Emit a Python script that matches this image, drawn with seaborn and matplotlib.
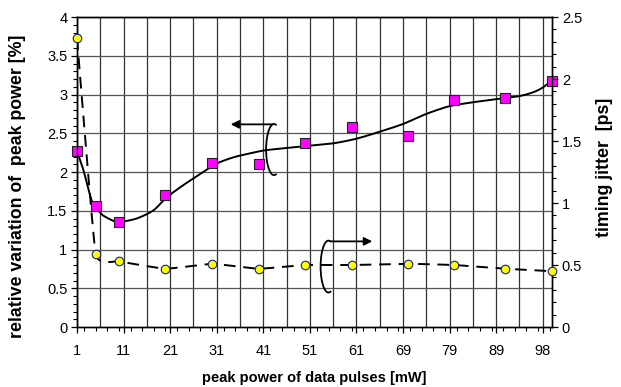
import numpy as np
import pandas as pd
import matplotlib
matplotlib.use("Agg")
import matplotlib.pyplot as plt
import seaborn as sns
from matplotlib.patches import Arc
from matplotlib.ticker import MultipleLocator, FixedLocator

# ---- data (x = position along the category axis) ----
x_pos = [1, 5, 10, 20, 30, 40, 50, 60, 72, 82, 93, 103]
power_var = [2.27, 1.56, 1.35, 1.70, 2.12, 2.10, 2.37, 2.58, 2.47, 2.93, 2.95, 3.18]
jitter = [2.33, 0.59, 0.53, 0.47, 0.51, 0.47, 0.50, 0.50, 0.51, 0.50, 0.47, 0.45]

# smoothed trend curve for the power variation
trend_x = [1, 2.4, 4.1, 5.2, 6.6, 8.8, 10.2, 13.8, 17.4, 20.2, 23.8, 28.1, 31, 34.6,
           38.1, 41.3, 46, 51, 56, 61, 66, 71, 76, 81, 86, 91, 96, 99, 101, 102.9]
trend_y = [2.27, 2.02, 1.64, 1.53, 1.44, 1.37, 1.355, 1.40, 1.505, 1.67, 1.83, 2.0, 2.11, 2.19,
           2.24, 2.28, 2.31, 2.34, 2.37, 2.43, 2.52, 2.62, 2.75, 2.85, 2.90, 2.94, 2.98, 3.03, 3.09, 3.18]

tick_pos = [1, 11, 21, 31, 41, 51, 61, 71, 81, 91, 101]
tick_labels = ["1", "11", "21", "31", "41", "51", "61", "69", "79", "89", "98"]


def smooth(xs, ys, n=20, tension=1.0):
    """Cardinal-spline rendering of a smoothed line (like a spreadsheet 'smoothed line')."""
    xs = np.asarray(xs, float); ys = np.asarray(ys, float)
    P = np.column_stack([xs, ys])
    m = len(P)
    T = np.zeros_like(P)
    for i in range(m):
        a = P[max(i - 1, 0)]; b = P[min(i + 1, m - 1)]
        T[i] = 0.5 * tension * (b - a)
    t = np.linspace(0, 1, n, endpoint=False)[:, None]
    h00 = 2 * t**3 - 3 * t**2 + 1; h10 = t**3 - 2 * t**2 + t
    h01 = -2 * t**3 + 3 * t**2; h11 = t**3 - t**2
    out = []
    for i in range(m - 1):
        out.append(h00 * P[i] + h10 * T[i] + h01 * P[i + 1] + h11 * T[i + 1])
    out.append(P[-1][None, :])
    out = np.vstack(out)
    return out[:, 0], out[:, 1]


sns.set_style("ticks")
plt.rcParams['font.family'] = ['Liberation Sans', 'DejaVu Sans']
plt.rcParams['text.color'] = 'black'
plt.rcParams['axes.labelcolor'] = 'black'

fig = plt.figure(figsize=(6.21, 3.87), dpi=100)
ax = fig.add_axes([0.124, 0.155, 0.765, 0.801])
ax2 = ax.twinx()

ax.set_xlim(1, 103)
ax.set_ylim(0, 4)
ax2.set_ylim(0, 2.5)
ax.xaxis.set_major_locator(FixedLocator(tick_pos))
ax.xaxis.set_minor_locator(MultipleLocator(2.5))
ax.set_xticklabels(tick_labels)
ax.set_yticks(np.arange(0, 4.01, 0.5))
ax.set_yticklabels([f"{v:g}" for v in np.arange(0, 4.01, 0.5)])
ax.yaxis.set_minor_locator(MultipleLocator(0.1))
ax2.set_yticks(np.arange(0, 2.51, 0.5))
ax2.set_yticklabels([f"{v:g}" for v in np.arange(0, 2.51, 0.5)])
ax2.yaxis.set_minor_locator(MultipleLocator(0.1))

for v in np.arange(1, 103, 5):
    ax.axvline(v, color="#333333", lw=0.9, zorder=0.5)
for v in np.arange(0.5, 4.01, 0.5):
    ax.axhline(v, color="#555555", lw=0.9, zorder=0.5)

# trend curve (solid) for power variation
tx, ty = smooth(trend_x, trend_y, 10, tension=0.8)
ax.plot(tx, ty, color="black", lw=1.4, zorder=3)

# dashed smoothed line for jitter
jx, jy = smooth(x_pos, jitter, 20, tension=0.35)
ax2.plot(jx, jy, color="black", lw=1.4, dashes=(6, 4), zorder=3)

df1 = pd.DataFrame({"x": x_pos, "y": power_var})
df2 = pd.DataFrame({"x": x_pos, "y": jitter})
sns.scatterplot(data=df1, x="x", y="y", ax=ax, marker="s", s=50, color="#ff00ff",
                edgecolor="#222222", linewidth=0.8, zorder=5, clip_on=False)
sns.scatterplot(data=df2, x="x", y="y", ax=ax2, marker="o", s=38, color="#ffff00",
                edgecolor="#1a1a8c", linewidth=0.8, zorder=5, clip_on=False)

ax.set_xlim(1, 103)
ax.set_ylim(0, 4)
ax2.set_ylim(0, 2.5)
ax.set_zorder(1)
ax2.set_zorder(2)
ax2.patch.set_visible(False)

# annotations: arrows with ellipses
ax.add_patch(Arc((43.3, 2.29), 3.4, 0.66, theta1=30, theta2=330, color="black", lw=1.3, zorder=6))
ax.annotate("", xy=(33.4, 2.615), xytext=(43.6, 2.615),
            arrowprops=dict(arrowstyle="-|>", color="black", lw=1.3, mutation_scale=12), zorder=6)
ax.add_patch(Arc((55.0, 0.78), 3.4, 0.67, theta1=30, theta2=330, color="black", lw=1.3, zorder=6))
ax.annotate("", xy=(65.0, 1.105), xytext=(54.9, 1.105),
            arrowprops=dict(arrowstyle="-|>", color="black", lw=1.3, mutation_scale=12), zorder=6)

for a in (ax, ax2):
    for s in a.spines.values():
        s.set_visible(True)
        s.set_color("black")
        s.set_linewidth(1.0)
ax.tick_params(axis="both", which="major", direction="out", length=4, width=0.9,
               labelsize=10.5, colors="black", pad=3)
ax.tick_params(axis="x", which="major", pad=8)
ax.tick_params(axis="both", which="minor", direction="out", length=3, width=0.8, colors="black")
ax2.tick_params(axis="y", which="major", direction="out", length=4, width=0.9,
                labelsize=10.5, colors="black", pad=3)
ax2.tick_params(axis="y", which="minor", direction="out", length=3, width=0.8, colors="black")

ax.set_xlabel("peak power of data pulses [mW]", fontsize=10.5, fontweight="bold", color="black")
ax.set_ylabel("relative variation of  peak power [%]", fontsize=12.8, fontweight="bold", color="black")
ax2.set_ylabel("timing jitter  [ps]", fontsize=12.8, fontweight="bold", color="black")
ax.xaxis.set_label_coords(0.5, -0.142)
ax.yaxis.set_label_coords(-0.108, 0.455)
ax2.yaxis.set_label_coords(1.093, 0.515)

fig.savefig("out.png", dpi=100)
